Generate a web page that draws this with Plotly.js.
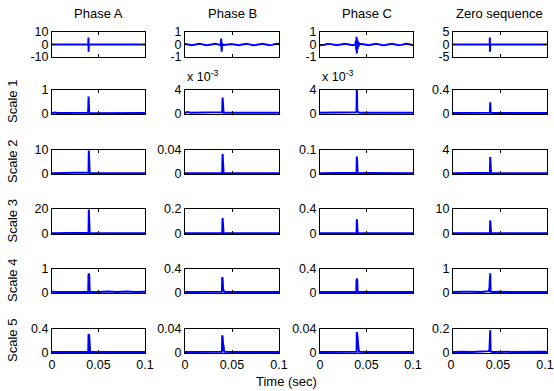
<!DOCTYPE html>
<html><head><meta charset="utf-8">
<script src="https://cdn.plot.ly/plotly-3.0.1.min.js"></script>
<style>html,body{margin:0;padding:0;background:#fff}#chart{width:554px;height:391px}</style>
</head><body><div id="chart"></div>
<script>
// ---------- data ----------
const columnTitles = ['Phase A', 'Phase B', 'Phase C', 'Zero sequence'];
const rowTitles = ['', 'Scale 1', 'Scale 2', 'Scale 3', 'Scale 4', 'Scale 5'];
const xTickVals = [0, 0.05, 0.1];
const xTickText = ['0', '0.05', '0.1'];

// top row: raw signals
const tTopA = [0, 0.039, 0.0392, 0.0394, 0.0396, 0.1];
const topA = [0, 0, 5.6, -5.8, 0, 0];
const topZ = [0, 0, 2.8, -2.9, 0, 0];

const tTopB = [0,0.0025,0.005,0.0075,0.01,0.0125,0.015,0.0175,0.02,0.0225,0.025,0.0275,0.03,0.0325,0.035,0.0375,
  0.038,0.0385,0.039,0.0395,0.04,0.041,
  0.0425,0.045,0.0475,0.05,0.0525,0.055,0.0575,0.06,0.0625,0.065,0.0675,0.07,0.0725,0.075,0.0775,0.08,0.0825,0.085,0.0875,0.09,0.0925,0.095,0.0975,0.1];
const topB = [0.045,-0.01,-0.055,-0.056,-0.012,0.043,0.062,0.03,-0.027,-0.062,-0.045,0.008,0.055,0.056,0.012,-0.043,
  -0.055,0.48,-0.58,0.12,-0.062,-0.047,
  -0.03,0.027,0.062,0.045,-0.008,-0.055,-0.056,-0.012,0.043,0.062,0.03,-0.027,-0.062,-0.045,0.008,0.055,0.056,0.012,-0.043,-0.062,-0.03,0.027,0.062,0.045];

const tTopC = [0,0.0025,0.005,0.0075,0.01,0.0125,0.015,0.0175,0.02,0.0225,0.025,0.0275,0.03,0.0325,0.035,0.0375,
  0.038,0.0385,0.039,0.0393,0.0396,0.04,0.0405,0.041,0.0415,0.042,
  0.0425,0.045,0.0475,0.05,0.0525,0.055,0.0575,0.06,0.0625,0.065,0.0675,0.07,0.0725,0.075,0.0775,0.08,0.0825,0.085,0.0875,0.09,0.0925,0.095,0.0975,0.1];
const topC = [-0.055,-0.056,-0.012,0.043,0.062,0.03,-0.027,-0.062,-0.045,0.008,0.055,0.056,0.012,-0.043,-0.062,-0.03,
  -0.03,0.3,-0.45,0.62,-0.72,0.42,-0.35,0.24,-0.16,0.1,
  0.062,0.045,-0.008,-0.055,-0.056,-0.012,0.043,0.062,0.03,-0.027,-0.062,-0.045,0.008,0.055,0.056,0.012,-0.043,-0.062,-0.03,0.027,0.062,0.045,-0.008,-0.055];

// detail scales: shared time base
const tScale = [0,0.003,0.006,0.01,0.02,0.03,0.038,0.0388,0.039,0.0393,0.0396,0.04,0.0405,0.041,0.0415,0.042,0.05,0.06,0.07,0.08,0.09,0.097,0.1];

const s1A = [0.01,0.03,0.01,0.01,0.005,0.01,0.02,0.06,0.15,0.72,0.05,0.01,0.005,0.005,0.005,0.005,0.005,0.01,0.005,0.01,0.005,0.03,0.01];
const s1B = [0.0001,0.0002,0.0001,0.0001,0.0001,0.0001,0.0001,0.0001,0.0001,0.0001,0.0002,0.0027,0.0002,0.0001,0.0001,0.0001,0.0001,0.0001,0.0001,0.0002,0.0001,0.0001,0.0001];
const s1C = [0.0001,0.0001,0.0001,0.0001,0.0001,0.0001,0.0001,0.0001,0.0002,0.0004,0.0048,0.0008,0.0003,0.0002,0.0001,0.0001,0.0001,0.0001,0.0001,0.0002,0.0001,0.0001,0.0001];
const s1Z = [0.005,0.006,0.004,0.005,0.006,0.005,0.006,0.008,0.01,0.02,0.19,0.02,0.008,0.006,0.005,0.005,0.005,0.006,0.005,0.006,0.005,0.006,0.005];

const s2A = [0.05,0.05,0.05,0.05,0.15,0.1,0.1,0.1,0.2,0.3,9.8,0.1,0.1,0.1,0.1,0.1,0.15,0.15,0.1,0.1,0.1,0.05,0.05];
const s2B = [0.0002,0.0002,0.0002,0.0002,0.0002,0.0002,0.0002,0.0002,0.0002,0.0003,0.0005,0.033,0.0005,0.0003,0.0002,0.0002,0.0002,0.0002,0.0002,0.0002,0.0002,0.0002,0.0002];
const s2C = [0.0005,0.0005,0.0005,0.0005,0.001,0.0005,0.0005,0.0005,0.001,0.002,0.072,0.008,0.002,0.001,0.0005,0.0005,0.001,0.0005,0.0005,0.0005,0.0005,0.0005,0.0005];
const s2Z = [0.03,0.03,0.04,0.03,0.05,0.04,0.04,0.05,0.06,0.1,2.8,0.06,0.04,0.03,0.03,0.03,0.04,0.03,0.04,0.03,0.04,0.03,0.03];

const s3A = [0.1,0.1,0.1,0.1,0.1,0.1,0.1,0.2,0.3,0.5,19.6,0.2,0.1,0.1,0.1,0.1,0.1,0.1,0.1,0.1,0.1,0.1,0.1];
const s3B = [0.001,0.001,0.001,0.001,0.001,0.001,0.001,0.001,0.001,0.002,0.003,0.125,0.003,0.002,0.001,0.001,0.001,0.001,0.001,0.001,0.001,0.001,0.001];
const s3C = [0.002,0.002,0.002,0.002,0.002,0.002,0.002,0.002,0.003,0.005,0.23,0.02,0.005,0.003,0.002,0.002,0.002,0.002,0.002,0.002,0.002,0.002,0.002];
const s3Z = [0.05,0.05,0.05,0.05,0.05,0.05,0.05,0.05,0.1,0.15,5.3,0.1,0.05,0.05,0.05,0.05,0.05,0.05,0.05,0.05,0.05,0.05,0.05];

const s4A = [0.02,0.03,0.01,0.01,0.01,0.01,0.01,0.01,0.02,0.77,0.78,0.76,0.02,0.01,0.01,0.01,0.01,0.03,0.01,0.03,0.01,0.01,0.02];
const s4B = [0.004,0.004,0.004,0.004,0.004,0.004,0.004,0.004,0.005,0.01,0.26,0.24,0.05,0.02,0.008,0.005,0.004,0.004,0.004,0.008,0.004,0.004,0.004];
const s4C = [0.004,0.004,0.004,0.004,0.004,0.004,0.004,0.004,0.005,0.22,0.23,0.22,0.01,0.005,0.004,0.004,0.004,0.004,0.004,0.004,0.004,0.004,0.004];
const s4Z = [0.01,0.02,0.01,0.02,0.02,0.01,0.05,0.2,0.4,0.55,0.82,0.03,0.02,0.01,0.01,0.01,0.02,0.01,0.02,0.02,0.01,0.01,0.01];

const s5A = [0.004,0.006,0.004,0.004,0.004,0.004,0.004,0.004,0.006,0.3,0.31,0.29,0.01,0.006,0.004,0.004,0.004,0.008,0.01,0.004,0.004,0.006,0.004];
const s5B = [0.0004,0.0004,0.0004,0.0006,0.0004,0.0004,0.0004,0.0004,0.0005,0.001,0.029,0.027,0.013,0.012,0.003,0.001,0.0004,0.0004,0.0004,0.0008,0.0004,0.0004,0.0004];
const s5C = [0.0004,0.0004,0.0004,0.0004,0.0004,0.0004,0.0004,0.0004,0.0006,0.001,0.035,0.032,0.025,0.012,0.004,0.001,0.0004,0.0004,0.0004,0.0004,0.0004,0.0008,0.0004];
const s5Z = [0.003,0.004,0.003,0.004,0.003,0.004,0.01,0.02,0.09,0.11,0.19,0.01,0.005,0.003,0.003,0.003,0.004,0.003,0.005,0.003,0.004,0.005,0.003];

// y-axis tick values / labels per cell (rows x cols)
const yTickVals = [
  [[-10,0,10],[-1,0,1],[-1,0,1],[-5,0,5]],
  [[0,1],[0,0.004],[0,0.004],[0,0.4]],
  [[0,10],[0,0.04],[0,0.1],[0,4]],
  [[0,20],[0,0.2],[0,0.4],[0,10]],
  [[0,1],[0,0.4],[0,0.4],[0,1]],
  [[0,0.4],[0,0.04],[0,0.04],[0,0.2]]
];
const yTickText = [
  [['-10','0','10'],['-1','0','1'],['-1','0','1'],['-5','0','5']],
  [['0','1'],['0','4'],['0','4'],['0','0.4']],
  [['0','10'],['0','0.04'],['0','0.1'],['0','4']],
  [['0','20'],['0','0.2'],['0','0.4'],['0','10']],
  [['0','1'],['0','0.4'],['0','0.4'],['0','1']],
  [['0','0.4'],['0','0.04'],['0','0.04'],['0','0.2']]
];

const seriesX = [
  [tTopA, tTopB, tTopC, tTopA],
  [tScale, tScale, tScale, tScale],
  [tScale, tScale, tScale, tScale],
  [tScale, tScale, tScale, tScale],
  [tScale, tScale, tScale, tScale],
  [tScale, tScale, tScale, tScale]
];
const seriesY = [
  [topA, topB, topC, topZ],
  [s1A, s1B, s1C, s1Z],
  [s2A, s2B, s2C, s2Z],
  [s3A, s3B, s3C, s3Z],
  [s4A, s4B, s4C, s4Z],
  [s5A, s5B, s5C, s5Z]
];

// ---------- layout geometry (pixels) ----------
const W = 554, H = 391;
const colPx = [[52,145],[185,279],[320,413],[453,547]];
const rowPx = [[32,57],[90,114],[150,174],[209,234],[269,293],[329,353]];
const FONT = 'Liberation Sans, Arial, Helvetica, sans-serif';
const TICK_SIZE = 12.5, TITLE_SIZE = 13;

const traces = [];
const layout = {
  width: W, height: H,
  margin: {l:0, r:0, t:0, b:0},
  paper_bgcolor: '#fff', plot_bgcolor: '#fff',
  showlegend: false,
  font: {family: FONT, size: TICK_SIZE, color: '#000'},
  annotations: []
};

for (let r = 0; r < 6; r++) {
  for (let c = 0; c < 4; c++) {
    const i = r * 4 + c + 1;
    const xn = 'x' + i, yn = 'y' + i;
    traces.push({
      x: seriesX[r][c], y: seriesY[r][c],
      xaxis: xn, yaxis: yn, type: 'scatter', mode: 'lines',
      line: {color: '#0000ff', width: 2}, hoverinfo: 'skip'
    });
    const tv = yTickVals[r][c];
    const ymin = tv[0], ymax = tv[tv.length - 1];
    const yr = r === 0 ? [ymin, ymax] : [-0.03 * ymax, ymax];
    const common = {
      ticks: 'inside', ticklen: 3, tickcolor: '#000', tickwidth: 1,
      mirror: 'allticks', showline: true, linecolor: '#000', linewidth: 1,
      showgrid: false, zeroline: false, fixedrange: true,
      ticklabeloverflow: 'allow',
      tickfont: {family: FONT, size: TICK_SIZE, color: '#000'}
    };
    layout['xaxis' + i] = Object.assign({}, common, {
      domain: [colPx[c][0] / W, colPx[c][1] / W],
      anchor: yn, range: [0, 0.1],
      tickmode: 'array', tickvals: xTickVals, ticktext: xTickText,
      showticklabels: r === 5,
      ticklabelshift: (r === 5 && c === 3) ? -2 : 0
    });
    layout['yaxis' + i] = Object.assign({}, common, {
      domain: [1 - rowPx[r][1] / H, 1 - rowPx[r][0] / H],
      anchor: xn, range: yr,
      tickmode: 'array', tickvals: tv, ticktext: yTickText[r][c]
    });
  }
}

// column titles
for (let c = 0; c < 4; c++) {
  layout.annotations.push({
    text: columnTitles[c], xref: 'paper', yref: 'paper',
    x: (colPx[c][0] + colPx[c][1]) / 2 / W, y: 1 - 14 / H,
    xanchor: 'center', yanchor: 'middle', showarrow: false,
    font: {family: FONT, size: TITLE_SIZE, color: '#000'}
  });
}
// row titles
for (let r = 1; r < 6; r++) {
  layout.annotations.push({
    text: rowTitles[r], xref: 'paper', yref: 'paper',
    x: 12 / W, y: 1 - (rowPx[r][0] + rowPx[r][1]) / 2 / H,
    xanchor: 'center', yanchor: 'middle', textangle: -90, showarrow: false,
    font: {family: FONT, size: TITLE_SIZE, color: '#000'}
  });
}
// exponent labels for Scale 1, Phase B and C
[1, 2].forEach(c => {
  layout.annotations.push({
    text: 'x 10<sup>-3</sup>', xref: 'paper', yref: 'paper',
    x: colPx[c][0] / W, y: 1 - 86 / H,
    xanchor: 'left', yanchor: 'bottom', showarrow: false,
    font: {family: FONT, size: TICK_SIZE, color: '#000'}
  });
});
// x-axis label
layout.annotations.push({
  text: 'Time (sec)', xref: 'paper', yref: 'paper',
  x: 286 / W, y: 1 - 381 / H,
  xanchor: 'center', yanchor: 'middle', showarrow: false,
  font: {family: FONT, size: TITLE_SIZE, color: '#000'}
});

Plotly.newPlot('chart', traces, layout, {staticPlot: true, displayModeBar: false});
</script>
</body></html>
